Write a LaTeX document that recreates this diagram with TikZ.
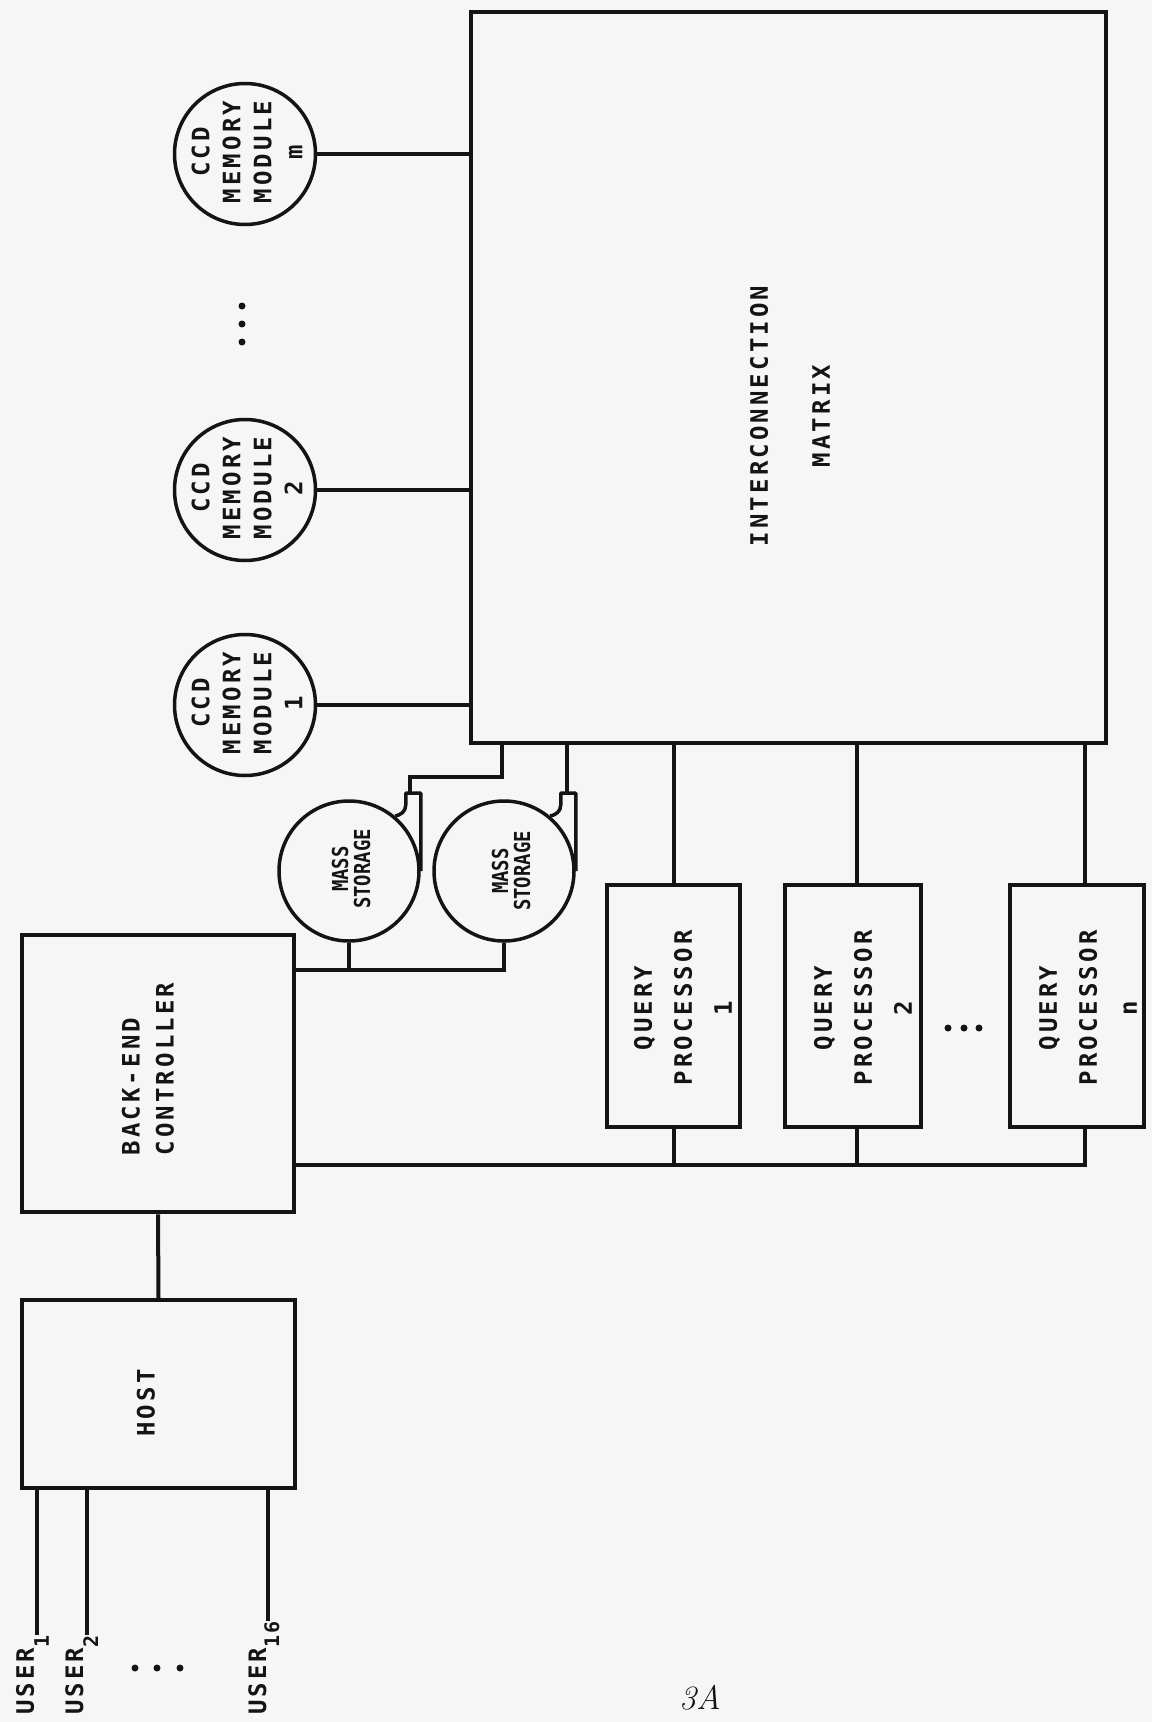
\documentclass[tikz,border=0pt]{standalone}
\usepackage{fontspec}
\newfontfamily\tw[LetterSpace=13]{DejaVu Sans Mono}
\newfontfamily\msfont[FakeStretch=0.86]{DejaVu Sans Mono}
\definecolor{ink}{HTML}{141414}
\definecolor{paper}{HTML}{F6F6F6}
\begin{document}
\begin{tikzpicture}[x=1pt,y=-1pt,line join=miter,
  box/.style={draw=ink,line width=4.5pt,inner sep=0pt},
  modc/.style={draw=ink,circle,line width=3.5pt,minimum size=141pt,inner sep=0pt},
  msc/.style={draw=ink,circle,line width=3.5pt,minimum size=140pt,inner sep=0pt},
  wire/.style={draw=ink,line width=4pt},
  tail/.style={draw=ink,line width=3.5pt,line join=round},
  lbl/.style={rotate=90,align=center,text=ink,inner sep=0pt},
  dotm/.style={fill=ink,circle,inner sep=0pt,minimum size=7pt}]
\fill[paper] (0,0) rectangle (1152,1722);
\useasboundingbox (0,0) rectangle (1152,1722);

% interconnection matrix
\node[box,minimum width=635pt,minimum height=731pt] (mat) at (788.5,377.5) {};
\node[lbl,font={\tw\bfseries\fontsize{24}{62}\selectfont}] (matt) at (790,416) {INTERCONNECTION\\MATRIX};

% CCD memory modules
\node[modc] (cm) at (245,154) {};
\node[modc] (c2) at (245,490) {};
\node[modc] (c1) at (245,705) {};
\node[lbl,font={\tw\bfseries\fontsize{24}{31}\selectfont}] (cmt) at (247,152) {CCD\\MEMORY\\MODULE\\m};
\node[lbl,font={\tw\bfseries\fontsize{24}{31}\selectfont}] (c2t) at (247,488) {CCD\\MEMORY\\MODULE\\2};
\node[lbl,font={\tw\bfseries\fontsize{24}{31}\selectfont}] (c1t) at (247,703) {CCD\\MEMORY\\MODULE\\1};
\draw[wire] (cm.east) -- (cm.east -| mat.west);
\draw[wire] (c2.east) -- (c2.east -| mat.west);
\draw[wire] (c1.east) -- (c1.east -| mat.west);
\node[dotm] (md1) at (242,306) {};
\node[dotm] (md2) at (242,324) {};
\node[dotm] (md3) at (242,342) {};

% mass storage units
\node[msc] (ms1) at (349,871) {};
\node[msc] (ms2) at (504,871) {};
\draw[tail] (ms1.east) -- ++(0,-78) -- ++(-15,0) -- ++(0,12) .. controls +(0,7) and +(5,-1) .. (ms1.50);
\draw[tail] (ms2.east) -- ++(0,-78) -- ++(-15,0) -- ++(0,12) .. controls +(0,7) and +(5,-1) .. (ms2.50);
\node[lbl,font={\msfont\bfseries\fontsize{22}{22}\selectfont}] (ms1t) at (351,869) {MASS\\STORAGE};
\node[lbl,font={\msfont\bfseries\fontsize{22}{22}\selectfont}] (ms2t) at (511,871) {MASS\\STORAGE};
\coordinate (ms1top) at (410,793);
\coordinate (ms2top) at (567,793);
\draw[wire] ([xshift=33pt]mat.south west) -- ++(0,32) -| (ms1top);
\draw[wire] (ms2top |- mat.south) -- (ms2top);

% back-end controller and host
\node[box,minimum width=272pt,minimum height=277pt] (be) at (158,1073.5) {};
\node[lbl,align=left,font={\tw\bfseries\fontsize{24}{34}\selectfont}] (bet) at (148,1069) {BACK-END\\CONTROLLER};
\node[box,minimum width=273pt,minimum height=188pt] (host) at (158.5,1394) {};
\node[lbl,font={\tw\bfseries\fontsize{24}{30}\selectfont}] (hostt) at (146,1403) {HOST};
\draw[wire] (be.south) -- (host.north);

\draw[wire] ([yshift=-37pt]be.north east) coordinate (b1) -- (b1 -| ms2.south) -- (ms2.south);
\draw[wire] (ms1.south) -- (ms1.south |- b1);

% query processors
\node[box,minimum width=133pt,minimum height=242pt] (qp1) at (673.5,1006) {};
\node[box,minimum width=136pt,minimum height=242pt] (qp2) at (853,1006) {};
\node[box,minimum width=134pt,minimum height=242pt] (qpn) at (1077,1006) {};
\node[lbl,font={\tw\bfseries\fontsize{24}{40}\selectfont}] (qp1t) at (683,1008) {QUERY\\PROCESSOR\\1};
\node[lbl,font={\tw\bfseries\fontsize{24}{40}\selectfont}] (qp2t) at (863,1008) {QUERY\\PROCESSOR\\2};
\node[lbl,font={\tw\bfseries\fontsize{24}{40}\selectfont}] (qpnt) at (1088,1008) {QUERY\\PROCESSOR\\n};
\node[dotm] (qd1) at (948,1028) {};
\node[dotm] (qd2) at (964,1028) {};
\node[dotm] (qd3) at (979,1028) {};

\draw[wire] (qp1.north) -- (qp1.north |- mat.south);
\draw[wire] ([xshift=4pt]qp2.north) -- ([xshift=4pt]qp2.north |- mat.south);
\draw[wire] ([xshift=8pt]qpn.north) -- ([xshift=8pt]qpn.north |- mat.south);

\path ([yshift=49pt]be.south east) coordinate (b2);
\coordinate (qpns) at ([xshift=8pt]qpn.south);
\draw[wire] (b2) -- (b2 -| qpns) -- (qpns);
\draw[wire] (qp1.south) -- (qp1.south |- b2);
\draw[wire] ([xshift=4pt]qp2.south) -- ([xshift=4pt]qp2.south |- b2);

% users
\node[lbl,anchor=base west,font={\tw\bfseries\fontsize{24}{24}\selectfont}] (u1) at (34,1715) {USER\raisebox{-15pt}{\fontsize{20}{20}\selectfont 1}};
\node[lbl,anchor=base west,font={\tw\bfseries\fontsize{24}{24}\selectfont}] (u2) at (83,1715) {USER\raisebox{-15pt}{\fontsize{20}{20}\selectfont 2}};
\node[lbl,anchor=base west,font={\tw\bfseries\fontsize{24}{24}\selectfont}] (u16) at (266,1715) {USER\raisebox{-13pt}{\fontsize{20}{20}\selectfont 16}};
\path (u1.east) ++(4,0) coordinate (u1e);
\path (u2.east) ++(5,0) coordinate (u2e);
\path (u16.east) ++(4,0) coordinate (u16e);
\draw[wire] (u1e) -- (u1e |- host.south);
\draw[wire] (u2e) -- (u2e |- host.south);
\draw[wire] (u16e) -- (u16e |- host.south);
\node[dotm] (ud1) at (135,1668) {};
\node[dotm] (ud2) at (157,1668) {};
\node[dotm] (ud3) at (180,1668) {};

\node[text=ink,font={\fontsize{34}{34}\selectfont\itshape}] (pg) at (700,1698) {3A};
\end{tikzpicture}
\end{document}
